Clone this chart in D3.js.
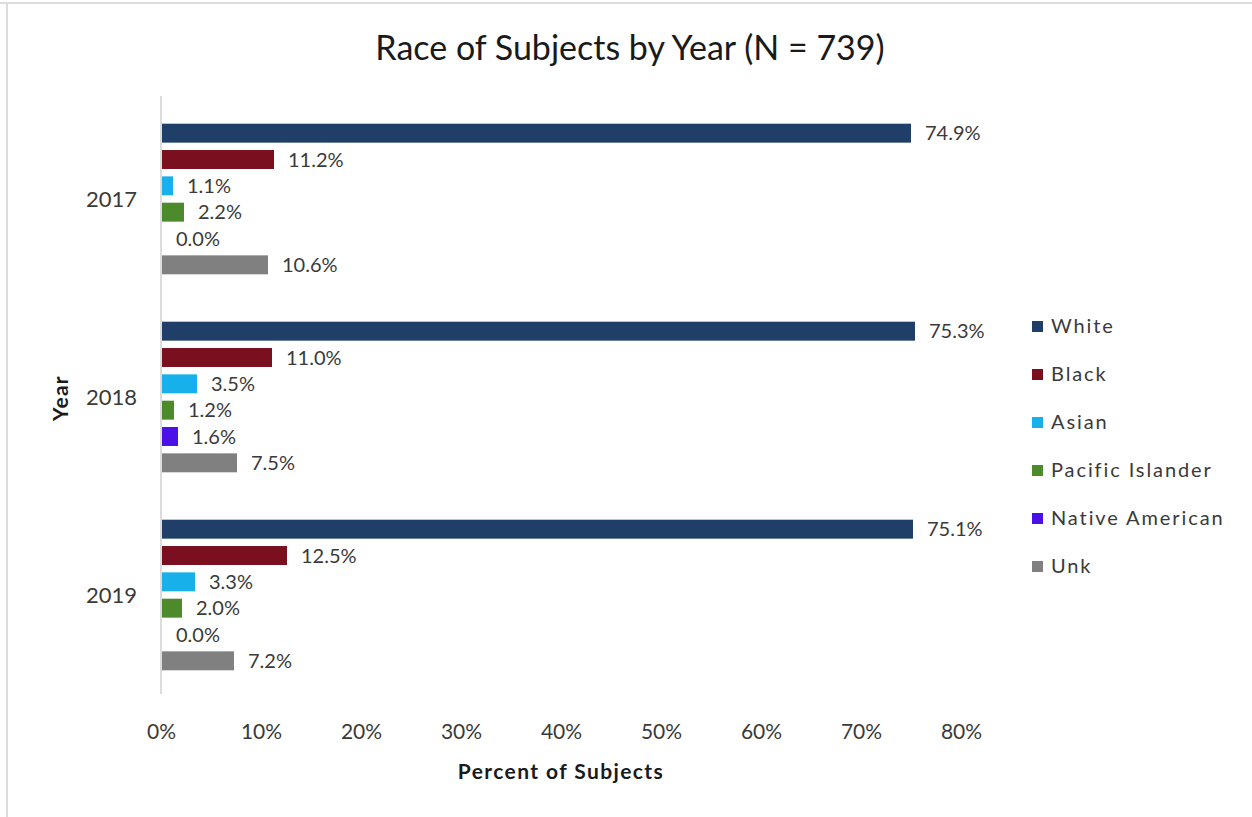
<!DOCTYPE html>
<html>
<head>
<meta charset="utf-8">
<script src="https://cdn.jsdelivr.net/npm/d3@7/dist/d3.min.js"></script>
<style>
  html, body { margin: 0; padding: 0; background: #fff; }
  svg { display: block; font-family: Lato, "Noto Sans", sans-serif; }
</style>
</head>
<body>
<svg id="chart" width="1252" height="817"></svg>
<script>
// Race of subjects, percent by year
const years = ["2017", "2018", "2019"];
const races = ["White", "Black", "Asian", "Pacific Islander", "Native American", "Unk"];
const white = [74.9, 75.3, 75.1];
const black = [11.2, 11.0, 12.5];
const asian = [1.1, 3.5, 3.3];
const pacificIslander = [2.2, 1.2, 2.0];
const nativeAmerican = [0.0, 1.6, 0.0];
const unk = [10.6, 7.5, 7.2];
const xTicks = [0, 10, 20, 30, 40, 50, 60, 70, 80];
const colors = ["#1f3f68", "#7a0f1f", "#18b0ea", "#4c8a2c", "#4a10e6", "#808080"];

const seriesValues = [white, black, asian, pacificIslander, nativeAmerican, unk];

const svg = d3.select("#chart");

// Frame lines
svg.append("line").attr("x1", 0).attr("x2", 1252).attr("y1", 3).attr("y2", 3)
  .attr("stroke", "#dcdcdc").attr("stroke-width", 2);
svg.append("line").attr("x1", 7).attr("x2", 7).attr("y1", 3).attr("y2", 817)
  .attr("stroke", "#dcdcdc").attr("stroke-width", 2);

const plot = { left: 161, right: 961, top: 100, bottom: 694 };

const x = d3.scaleLinear().domain([0, 80]).range([plot.left, plot.right]);
const y0 = d3.scaleBand().domain(years).range([plot.top, plot.bottom]).paddingInner(0).paddingOuter(0);
const y1 = d3.scaleBand().domain(races).range([0, y0.bandwidth()]).paddingInner(0.28).paddingOuter(0.9);

// Title
svg.append("text")
  .attr("x", 630).attr("y", 60)
  .attr("text-anchor", "middle")
  .attr("font-size", 34)
  .attr("fill", "#1a1a1a")
  .text("Race of Subjects by Year (N = 739)");

// Vertical axis line
svg.append("line")
  .attr("x1", x(0)).attr("x2", x(0))
  .attr("y1", plot.top - 4).attr("y2", plot.bottom)
  .attr("stroke", "#d0d0d0").attr("stroke-width", 1.5);

// Bars and value labels
years.forEach((yr, yi) => {
  const g = svg.append("g").attr("transform", `translate(0,${y0(yr)})`);
  races.forEach((race, ri) => {
    const v = seriesValues[ri][yi];
    const by = y1(race);
    g.append("rect")
      .attr("x", x(0) + 1)
      .attr("y", by)
      .attr("width", Math.max(0, x(v) - x(0)))
      .attr("height", y1.bandwidth())
      .attr("fill", colors[ri]);
    g.append("text")
      .attr("x", x(v) + 15)
      .attr("y", by + y1.bandwidth() / 2)
      .attr("dy", "0.36em")
      .attr("font-size", 20)
      .attr("fill", "#3a3a3a")
      .text(v.toFixed(1) + "%");
  });
  // Year label
  svg.append("text")
    .attr("x", 137)
    .attr("y", y0(yr) + y0.bandwidth() / 2)
    .attr("dy", "0.36em")
    .attr("text-anchor", "end")
    .attr("font-size", 22)
    .attr("fill", "#3a3a3a")
    .text(yr);
});

// X axis tick labels
const xAxis = d3.axisBottom(x).tickValues(xTicks).tickSize(0).tickPadding(0)
  .tickFormat(d => d + "%");
const xg = svg.append("g").attr("transform", `translate(0,${724})`).call(xAxis);
xg.select(".domain").remove();
xg.selectAll("text")
  .attr("font-size", 21)
  .attr("font-family", "Lato, 'Noto Sans', sans-serif")
  .attr("fill", "#3a3a3a")
  .attr("dy", "0.36em")
  .attr("y", 7);

// Axis titles
svg.append("text")
  .attr("x", 561).attr("y", 779)
  .attr("text-anchor", "middle")
  .attr("font-size", 21)
  .attr("font-weight", "bold")
  .attr("letter-spacing", 1.4)
  .attr("fill", "#1a1a1a")
  .text("Percent of Subjects");

svg.append("text")
  .attr("transform", `translate(68,398) rotate(-90)`)
  .attr("text-anchor", "middle")
  .attr("font-size", 21)
  .attr("font-weight", "bold")
  .attr("letter-spacing", 1.2)
  .attr("fill", "#1a1a1a")
  .text("Year");

// Legend
const legend = svg.append("g").attr("transform", "translate(1032,326)");
races.forEach((race, i) => {
  const row = legend.append("g").attr("transform", `translate(0,${i * 48})`);
  row.append("rect").attr("x", 0).attr("y", -5).attr("width", 11).attr("height", 11).attr("fill", colors[i]);
  row.append("text").attr("x", 19).attr("y", 0).attr("dy", "0.36em")
    .attr("font-size", 20).attr("letter-spacing", 1.9)
    .attr("fill", "#3a3a3a").text(race);
});
</script>
</body>
</html>
